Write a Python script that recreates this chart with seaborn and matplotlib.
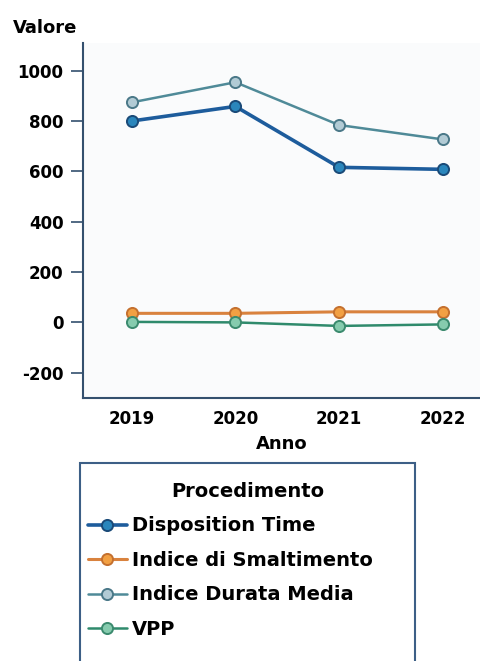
import pandas as pd
import matplotlib.pyplot as plt
import seaborn as sns
from matplotlib.patches import Rectangle

# Valori
anni = [2019, 2020, 2021, 2022]
disposition_time = [800, 858, 616, 608]
indice_smaltimento = [36, 36, 42, 42]
indice_durata_media = [874, 954, 784, 727]
vpp = [2, 0, -14, -8]

serie = ['Disposition Time', 'Indice di Smaltimento', 'Indice Durata Media', 'VPP']
valori = [disposition_time, indice_smaltimento, indice_durata_media, vpp]
col_linea = ['#1d5c9c', '#d9823e', '#4f8a98', '#2f8a6c']
col_marker = ['#2a86bc', '#f2a043', '#b2cbd5', '#86cbae']
col_bordo = ['#1a4a78', '#c4702f', '#4a7888', '#3b8a6e']
spessori = [2.6, 2.2, 1.8, 1.8]

sns.set_style('white')
plt.rcParams['font.family'] = ['DejaVu Sans']
plt.rcParams['font.weight'] = 'bold'
plt.rcParams['axes.unicode_minus'] = False
plt.rcParams['text.color'] = 'black'
plt.rcParams['xtick.color'] = 'black'
plt.rcParams['ytick.color'] = 'black'
plt.rcParams['axes.labelcolor'] = 'black'

fig = plt.figure(figsize=(4.8, 6.61), dpi=100)
ax = fig.add_axes([0.173, 0.398, 0.827, 0.537])
ax.set_facecolor('#fafbfc')

for nome, v, cl, cm, cb, lw in zip(serie, valori, col_linea, col_marker, col_bordo, spessori):
    df = pd.DataFrame({'Anno': anni, 'Valore': v})
    sns.lineplot(data=df, x='Anno', y='Valore', ax=ax, legend=False, label=nome,
                 color=cl, linewidth=lw, marker='o', markersize=8,
                 markerfacecolor=cm, markeredgecolor=cb, markeredgewidth=1.4)

ax.set_xlim(2018.53, 2022.36)
ax.set_ylim(-300, 1110)
ax.set_xticks(anni)
ax.set_xticklabels([str(a) for a in anni])
ax.set_yticks([-200, 0, 200, 400, 600, 800, 1000])
ax.tick_params(axis='x', length=0, pad=9, labelsize=12)
ax.tick_params(axis='y', length=9, width=1.2, color='#34506e', pad=5, labelsize=12, left=True)

sns.despine(ax=ax)
for s in ['left', 'bottom']:
    ax.spines[s].set_color('#34506e')
    ax.spines[s].set_linewidth(1.5)

ax.set_xlabel('Anno', fontsize=13, fontweight='bold', labelpad=5)
ax.set_ylabel('')
fig.text(13 / 480, 1 - 28 / 661, 'Valore', fontsize=13, fontweight='bold', ha='left', va='center')

handles, labels = ax.get_legend_handles_labels()
leg = fig.legend(handles, labels, title='Procedimento', loc='upper left',
                 bbox_to_anchor=(80 / 480, 0, 335 / 480, 1 - 474 / 661), mode='expand',
                 frameon=False, fontsize=14, title_fontsize=14, handlelength=2.0,
                 handletextpad=0.25, labelspacing=0.8, borderaxespad=0)
for t in leg.get_texts():
    t.set_fontweight('bold')
leg.get_title().set_fontweight('bold')

fig.add_artist(Rectangle((80 / 480, -0.05), 335 / 480, 1 - 463 / 661 + 0.05,
                         transform=fig.transFigure, fill=False,
                         edgecolor='#3d5f86', linewidth=1.5))

fig.savefig('out.png', dpi=100)
